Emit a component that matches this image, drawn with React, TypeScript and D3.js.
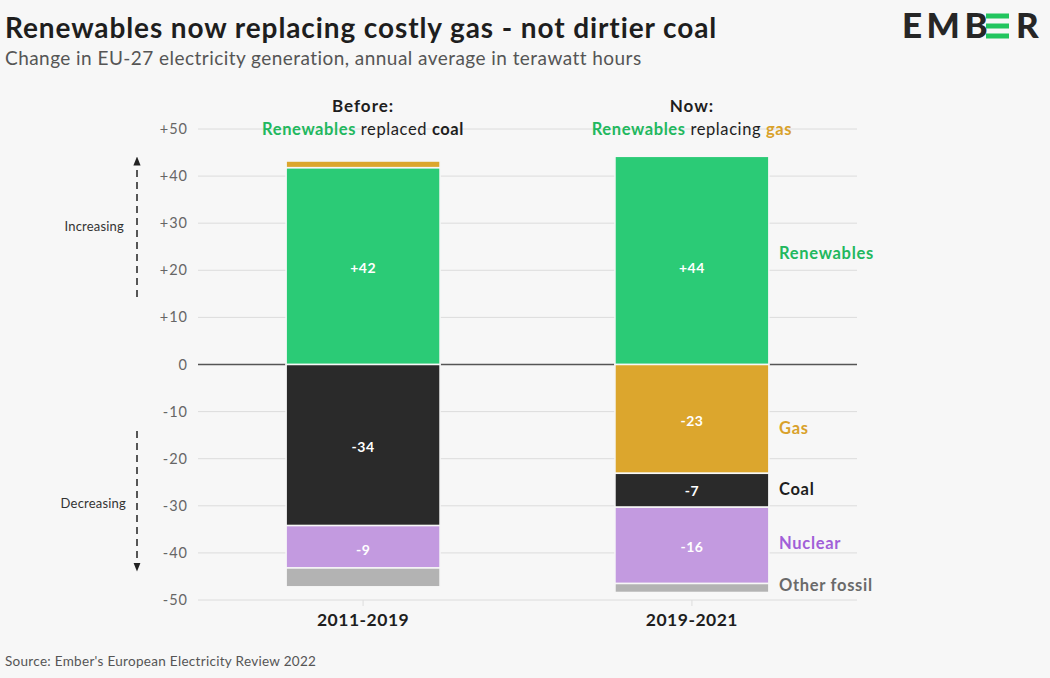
import React from "react";
import * as d3 from "d3";

const W = 1050;
const H = 678;

const periods = ["2011-2019", "2019-2021"];
const sources = ["Renewables", "Gas", "Coal", "Nuclear", "Other fossil"];
// change in TWh per period, per source
const renewables = [41.8, 44.2];
const gas = [1.4, -23.1];
const coal = [-34.2, -7.2];
const nuclear = [-9.0, -16.2];
const otherFossil = [-4.0, -1.9];
const valueLabels = [
  ["+42", "", "-34", "-9", ""],
  ["+44", "-23", "-7", "-16", ""],
];
// vertical anchor (TWh) of each value label
const valueLabelAt = [
  [20.5, 0, -17.5, -39.3, 0],
  [20.5, -11.9, -26.8, -38.8, 0],
];
const yTicks = [50, 40, 30, 20, 10, 0, -10, -20, -30, -40, -50];
const legendY = [23.5, -13.5, -26.5, -38, -47];
const headerTop = ["Before:", "Now:"];
const headerSub = [
  [["Renewables", "green"], [" replaced ", "dark"], ["coal", "dark"]],
  [["Renewables", "green"], [" replacing ", "dark"], ["gas", "gold"]],
];

const colors: Record<string, string> = {
  Renewables: "#2bcb76",
  Gas: "#dca62d",
  Coal: "#2a2a2a",
  Nuclear: "#c39ae0",
  "Other fossil": "#b3b3b3",
};
const labelColors: Record<string, string> = {
  Renewables: "#22b85e",
  Gas: "#d9a12a",
  Coal: "#1e1e1e",
  Nuclear: "#a15fd8",
  "Other fossil": "#6a6a6a",
};
const textCol: Record<string, string> = { green: "#22b85e", dark: "#1e1e1e", gold: "#d9a12a" };

const FONT = "Lato, 'Open Sans', sans-serif";

export default function App() {
  const y = d3.scaleLinear().domain([-50, 50]).range([600, 129]);
  const x = d3.scaleBand().domain(periods).range([198, 857]).paddingInner(0.532).paddingOuter(0.268);
  const bw = x.bandwidth();

  const seriesVals = [renewables, gas, coal, nuclear, otherFossil];
  const rows = periods.map((p, i) => {
    const o: any = { period: p };
    sources.forEach((s, j) => (o[s] = seriesVals[j][i]));
    return o;
  });
  const stack = d3.stack<any>().keys(sources).offset(d3.stackOffsetDiverging);
  const layers = stack(rows);

  return (
    <svg width={W} height={H} style={{ display: "block", position: "absolute", left: 0, top: 0 }} fontFamily={FONT}>
      <rect x={0} y={0} width={W} height={H} fill="#f7f7f7" />
      <text x={5} y={38} fontSize={28} fontWeight={700} fill="#1e1e1e" letterSpacing={0.9}>
        Renewables now replacing costly gas - not dirtier coal
      </text>
      <text x={5} y={65} fontSize={19} fill="#555" letterSpacing={0.45}>
        Change in EU-27 electricity generation, annual average in terawatt hours
      </text>
      {/* logo */}
      <g fontSize={35} fontWeight={900} fill="#262626">
        <text x={902} y={38} letterSpacing={4.5}>EMB</text>
        {[0, 1, 2].map((k) => (
          <rect key={k} x={986} y={13.5 + k * 10} width={23} height={5} fill="#22c55e" />
        ))}
        <text x={1016} y={38}>R</text>
      </g>

      {/* gridlines */}
      {yTicks.map((t) => (
        <g key={t}>
          <line x1={198} x2={857} y1={y(t)} y2={y(t)} stroke={t === 0 ? "#555" : "#dcdcdc"} strokeWidth={t === 0 ? 1.4 : 1} />
          <text x={188} y={y(t) + 5} fontSize={14.5} fill="#666" textAnchor="end" letterSpacing={1}>
            {t > 0 ? `+${t}` : `${t}`}
          </text>
        </g>
      ))}

      {/* bars */}
      {layers.map((layer) =>
        layer.map((d: any, i: number) => {
          const y0 = y(Math.max(d[0], d[1]));
          const y1 = y(Math.min(d[0], d[1]));
          if (Math.abs(d[1] - d[0]) < 1e-9) return null;
          return (
            <rect
              key={layer.key + i}
              x={x(periods[i])!}
              y={y0}
              width={bw}
              height={y1 - y0}
              fill={colors[layer.key]}
              stroke="#f7f7f7"
              strokeWidth={1.5}
            />
          );
        })
      )}
      {/* value labels */}
      {layers.map((layer, j) =>
        layer.map((d: any, i: number) => {
          const lbl = valueLabels[i][j];
          if (!lbl) return null;
          return (
            <text
              key={"v" + layer.key + i}
              x={x(periods[i])! + bw / 2}
              y={y(valueLabelAt[i][j]) + 5}
              textAnchor="middle"
              fontSize={14}
              fontWeight={700}
              fill="#fff"
              letterSpacing={0.5}
            >
              {lbl}
            </text>
          );
        })
      )}

      {/* period ticks & labels */}
      {periods.map((p, i) => (
        <g key={p}>
          <line x1={x(p)! + bw / 2} x2={x(p)! + bw / 2} y1={600} y2={606} stroke="#ddd" />
          <text x={x(p)! + bw / 2} y={626} textAnchor="middle" fontSize={17.5} fontWeight={700} fill="#1e1e1e" letterSpacing={0.5}>
            {p}
          </text>
          <text x={x(p)! + bw / 2} y={112} textAnchor="middle" fontSize={17} fontWeight={700} fill="#1e1e1e" letterSpacing={1}>
            {headerTop[i]}
          </text>
          <text x={x(p)! + bw / 2} y={135} textAnchor="middle" fontSize={16.5} letterSpacing={0.6}>
            {headerSub[i].map(([t, c], k) => (
              <tspan key={k} fill={textCol[c]} fontWeight={c === "dark" && k === 1 ? 400 : 700}>
                {t}
              </tspan>
            ))}
          </text>
        </g>
      ))}

      {/* legend labels */}
      {sources.map((s, j) => (
        <text key={s} x={779} y={y(legendY[j]) + 5.5} fontSize={16.5} fontWeight={700} fill={labelColors[s]} letterSpacing={0.7}>
          {s}
        </text>
      ))}

      {/* increasing / decreasing */}
      <defs>
        <marker id="ah" viewBox="0 0 10 10" refX={5} refY={5} markerWidth={6} markerHeight={6} orient="auto-start-reverse">
          <path d="M0,1 L10,5 L0,9 Z" fill="#222" />
        </marker>
      </defs>
      <line x1={137} x2={137} y1={297} y2={161} stroke="#222" strokeWidth={1.5} strokeDasharray="7,5" markerEnd="url(#ah)" />
      <text x={124} y={231} textAnchor="end" fontSize={13} fill="#333" letterSpacing={0.2}>Increasing</text>
      <line x1={137} x2={137} y1={431} y2={567} stroke="#222" strokeWidth={1.5} strokeDasharray="7,5" markerEnd="url(#ah)" />
      <text x={126} y={508} textAnchor="end" fontSize={13} fill="#333" letterSpacing={0.2}>Decreasing</text>

      <text x={5} y={666} fontSize={13.5} fill="#555" letterSpacing={0.3}>
        Source: Ember's European Electricity Review 2022
      </text>
    </svg>
  );
}
